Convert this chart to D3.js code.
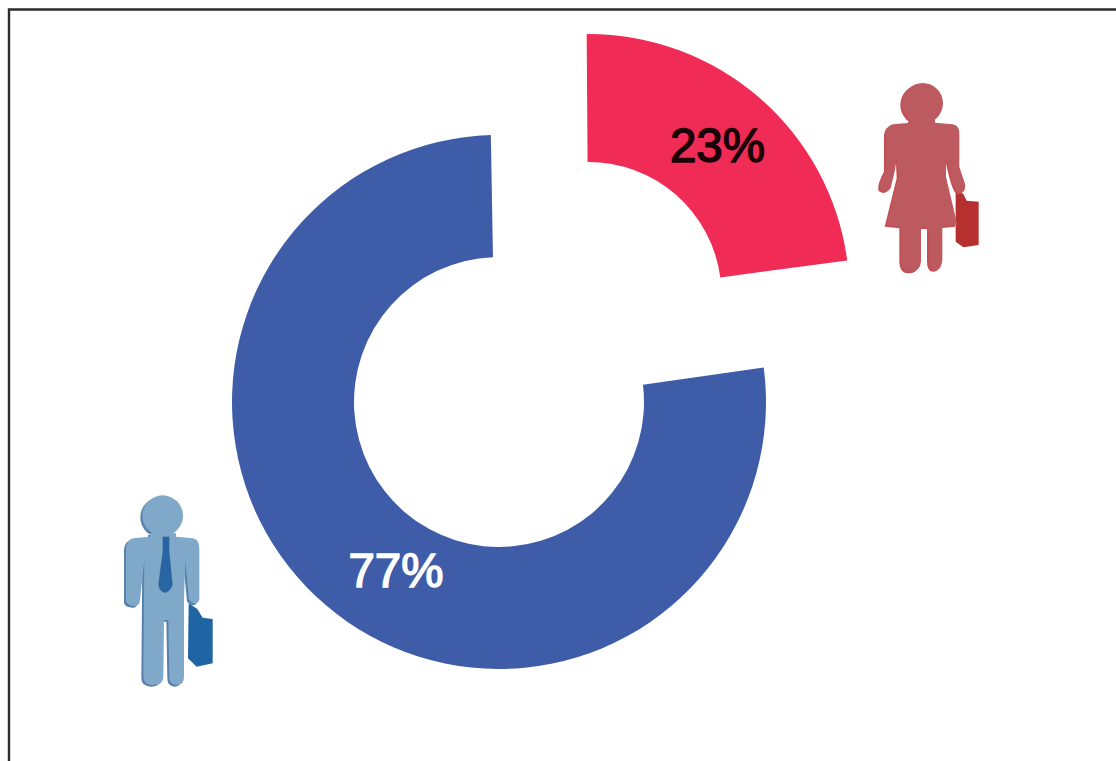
<!DOCTYPE html>
<html>
<head>
<meta charset="utf-8">
<script src="https://cdn.jsdelivr.net/npm/d3@7"></script>
<style>
html,body{margin:0;padding:0;background:#fff;overflow:hidden}
svg{display:block}
text{font-family:"Liberation Sans",Arial,sans-serif}
</style>
</head>
<body>
<svg id="chart" width="1116" height="761"></svg>
<script>
const categories = ["Women", "Men"];
const shares = [23, 77];
const shareLabels = ["23%", "77%"];
const sliceColors = ["#f02b55", "#3f5ca9"];
const labelColors = ["#1a0208", "#ffffff"];

const svg = d3.select("#chart");

// frame: top and left only, as in the source crop
svg.append("path")
  .attr("d", "M1116,9.5H9V761")
  .attr("fill", "none").attr("stroke", "#2b2b2b").attr("stroke-width", 2.4);

const slices = d3.pie().sort(null).value(d => d)(shares);

const placements = [
  {cx: 588.5, cy: 295, inner: 133, outer: 261, pad: 0,   rot: -0.4, lx: 717.5, ly: 162},
  {cx: 499,   cy: 402, inner: 145, outer: 267, pad: 3.5, rot: -1,   lx: 396,   ly: 587}
];

slices.forEach((s, i) => {
  const p = placements[i];
  const arc = d3.arc()
    .innerRadius(p.inner).outerRadius(p.outer)
    .padRadius(p.outer).padAngle(2 * p.pad / p.outer);
  svg.append("path")
    .attr("transform", `translate(${p.cx},${p.cy}) rotate(${p.rot})`)
    .attr("d", arc(s))
    .attr("fill", sliceColors[i]);
  svg.append("text")
    .attr("x", p.lx).attr("y", p.ly)
    .attr("text-anchor", "middle")
    .attr("font-size", 47.5)
    .attr("fill", labelColors[i])
    .attr("stroke", labelColors[i]).attr("stroke-width", 1.5)
    .text(shareLabels[i]);
});

// pictograms, outlined in 3x crop coordinates
function figure(x, y, bodyPath, headC, cols, casePath, tiePath) {
  const g = svg.append("g").attr("transform", `translate(${x},${y}) scale(${1/3})`);
  const drawBody = (dx, dy, c) => {
    g.append("path").attr("d", bodyPath).attr("fill", c).attr("transform", `translate(${dx},${dy})`);
    g.append("circle").attr("cx", headC[0] + dx).attr("cy", headC[1] + dy).attr("r", headC[2]).attr("fill", c);
  };
  g.append("path").attr("d", casePath).attr("fill", cols.case);
  drawBody(-6, 5, cols.shadow);
  drawBody(0, 0, cols.body);
  if (tiePath) g.append("path").attr("d", tiePath).attr("fill", cols.tie);
}

const womanBody = "M150,150 L225,150 L225,158 L278,163 Q298,166 298,190 L298,290 L316,345 Q316,372 296,368 Q285,362 272,310 L258,250 L258,320 L292,465 L247,470 L247,570 Q245,600 226,600 Q207,600 207,570 L207,472 L183,472 L183,575 Q180,605 153,605 Q125,605 124,570 L124,470 L80,465 L116,320 L113,250 L105,300 L92,355 Q80,372 62,358 Q56,340 78,300 L78,190 Q80,166 100,163 L150,158 Z";
const womanCase = "M287,360 L310,372 L320,392 L356,395 L356,525 L310,532 L287,515 Z";

const manBody = "M150,145 L228,145 L228,155 L278,160 Q298,163 298,190 L298,345 Q290,362 275,352 L267,345 L256,225 L252,345 L252,575 Q252,600 230,600 Q208,600 208,575 L205,405 L192,405 L190,575 Q190,600 160,600 Q130,600 130,575 L133,225 L120,345 Q118,368 95,362 Q75,358 78,340 L78,190 Q80,163 100,160 L150,155 Z";
const manCase = "M266,355 L292,372 L308,398 L338,402 L338,535 L290,545 L264,520 Z";
const manTie = "M188,155 L208,155 L208,200 L218,300 Q205,328 190,322 Q176,315 175,298 L188,200 Z";

figure(860, 70, womanBody, [188, 100, 61],
  {body: "#bd5a60", shadow: "#c34f55", case: "#b5302f"}, womanCase, null);
figure(100, 485, manBody, [188, 92, 61],
  {body: "#80a8c9", shadow: "#5880ad", case: "#1f64a3", tie: "#2766a3"}, manCase, manTie);
</script>
</body>
</html>
